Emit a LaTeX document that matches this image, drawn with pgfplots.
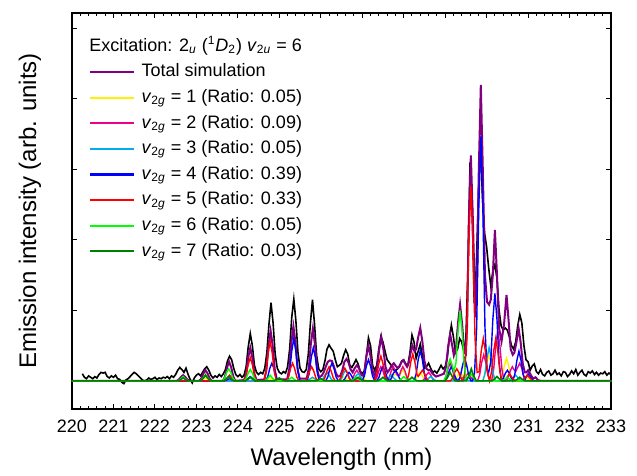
\documentclass[border=0pt]{standalone}
\usepackage{fontspec}
\setmainfont{Liberation Sans}
\usepackage{pgfplots}
\pgfplotsset{compat=1.18}
\definecolor{simpurple}{RGB}{128,0,128}
\definecolor{darkgreen}{RGB}{0,128,0}
\begin{document}
\begin{tikzpicture}
\begin{axis}[
  scale only axis, width=269.5pt, height=198pt,
  xmin=220, xmax=233, ymin=-0.4, ymax=5.22,
  xtick={220,...,233}, minor x tick num=4,
  ytick={0,...,5}, yticklabels={},
  tick align=inside, major tick length=2.7pt, minor tick length=1.4pt,
  axis line style={line width=0.6pt},
  every tick/.append style={black, line width=0.5pt},
  /pgf/number format/assume math mode=true,
  /pgf/number format/1000 sep={},
  xticklabel style={font=\fontsize{9}{10}\selectfont, inner sep=0pt, yshift=-5.5pt},
  xlabel={Wavelength (nm)},
  ylabel={Emission intensity (arb. units)},
  label style={font=\fontsize{12}{14}\selectfont, inner sep=0pt},
  xlabel style={at={(rel axis cs:0.5,0)}, anchor=north, yshift=-19.5pt},
  ylabel style={at={(rel axis cs:0,0.5)}, anchor=center, yshift=21pt},
  legend cell align=left,
  legend style={at={(0.0315,0.884)}, anchor=north west, draw=none, fill=none,
    inner sep=0pt, column sep=3pt, row sep=0pt,
    font=\fontsize{9}{10}\selectfont,
    nodes={inner sep=0pt, text height=8.8pt, text depth=4pt}},
  legend image code/.code={\draw[#1, line width=1.1pt] (0pt,0pt) -- (22pt,0pt);},
]
% measured spectrum
\addplot[black, line width=0.8pt, forget plot] coordinates {
(220.25,0.10)(220.30,0.05)(220.35,0.03)(220.40,0.07)(220.45,0.05)(220.50,0.03)
(220.55,0.06)(220.60,0.04)(220.65,0.09)(220.70,0.12)(220.75,0.11)(220.80,0.12)
(220.85,0.06)(220.90,0.04)(220.95,0.07)(221.00,0.05)(221.05,0.08)(221.10,0.03)
(221.15,0.02)(221.20,-0.02)(221.25,-0.04)(221.30,0.01)(221.35,0.03)(221.40,0.06)
(221.45,0.09)(221.50,0.12)(221.55,0.10)(221.60,0.07)(221.65,0.04)(221.70,0.01)
(221.75,0.00)(221.80,0.01)(221.85,0.04)(221.90,0.02)(221.95,0.03)(222.00,0.05)
(222.05,0.02)(222.10,0.04)(222.15,0.03)(222.20,0.05)(222.25,0.04)(222.30,0.06)
(222.35,0.03)(222.40,0.07)(222.45,0.05)(222.50,0.09)(222.55,0.15)(222.60,0.19)
(222.65,0.16)(222.70,0.12)(222.75,0.18)(222.80,0.09)(222.85,0.02)(222.90,-0.03)
(222.95,0.04)(223.00,0.08)(223.05,0.10)(223.10,0.07)(223.15,0.12)(223.20,0.17)
(223.25,0.20)(223.30,0.15)(223.35,0.08)(223.40,0.04)(223.45,0.07)(223.50,0.05)
(223.55,0.09)(223.60,0.06)(223.65,0.10)(223.70,0.16)(223.75,0.28)(223.80,0.35)
(223.85,0.30)(223.90,0.18)(223.95,0.09)(224.00,0.06)(224.05,0.09)(224.10,0.05)
(224.15,0.08)(224.20,0.20)(224.25,0.48)(224.30,0.67)(224.35,0.50)(224.40,0.22)
(224.45,0.12)(224.50,0.09)(224.55,0.12)(224.60,0.10)(224.65,0.18)(224.70,0.40)
(224.75,0.80)(224.80,1.11)(224.85,0.82)(224.90,0.38)(224.95,0.18)(225.00,0.12)
(225.05,0.10)(225.10,0.13)(225.15,0.11)(225.20,0.20)(225.25,0.45)(225.30,0.90)
(225.35,1.16)(225.40,0.85)(225.45,0.40)(225.50,0.18)(225.55,0.13)(225.60,0.12)
(225.65,0.16)(225.70,0.38)(225.75,0.82)(225.80,1.15)(225.85,0.80)(225.90,0.36)
(225.95,0.17)(226.00,0.13)(226.05,0.16)(226.10,0.28)(226.15,0.45)(226.20,0.51)
(226.25,0.46)(226.30,0.42)(226.35,0.30)(226.40,0.20)(226.45,0.22)(226.50,0.25)
(226.55,0.36)(226.60,0.44)(226.65,0.38)(226.70,0.22)(226.75,0.19)(226.80,0.24)
(226.85,0.30)(226.90,0.24)(226.95,0.14)(227.00,0.10)(227.05,0.14)(227.10,0.35)
(227.15,0.61)(227.20,0.50)(227.25,0.22)(227.30,0.15)(227.35,0.22)(227.40,0.45)
(227.45,0.63)(227.50,0.55)(227.55,0.42)(227.60,0.30)(227.65,0.26)(227.70,0.22)
(227.75,0.16)(227.80,0.14)(227.85,0.17)(227.90,0.20)(227.95,0.28)(228.00,0.30)
(228.05,0.24)(228.10,0.22)(228.15,0.40)(228.20,0.65)(228.25,0.55)(228.30,0.32)
(228.35,0.42)(228.40,0.52)(228.45,0.36)(228.50,0.18)(228.55,0.20)(228.60,0.25)
(228.65,0.18)(228.70,0.12)(228.75,0.14)(228.80,0.11)(228.85,0.16)(228.90,0.22)
(228.95,0.17)(229.00,0.20)(229.05,0.32)(229.10,0.60)(229.15,0.79)(229.20,0.62)
(229.25,0.40)(229.30,0.45)(229.35,0.60)(229.40,0.55)(229.45,0.42)(229.50,0.60)
(229.55,1.60)(229.60,3.10)(229.65,2.55)(229.70,1.10)(229.75,1.60)(229.80,2.60)
(229.85,3.40)(229.90,2.60)(229.95,2.10)(230.00,1.90)(230.05,1.60)(230.10,1.35)
(230.15,1.55)(230.20,1.65)(230.25,1.45)(230.30,1.00)(230.35,0.78)(230.40,0.72)
(230.45,0.75)(230.50,0.72)(230.55,0.62)(230.60,0.50)(230.65,0.45)(230.70,0.55)
(230.75,0.78)(230.80,0.94)(230.85,0.82)(230.90,0.50)(230.95,0.30)(231.00,0.27)
(231.05,0.15)(231.10,0.21)(231.15,0.24)(231.20,0.13)(231.25,0.10)(231.30,0.16)
(231.35,0.09)(231.40,0.07)(231.45,0.12)(231.50,0.14)(231.55,0.08)(231.60,0.10)
(231.65,0.15)(231.70,0.09)(231.75,0.11)(231.80,0.07)(231.85,0.13)(231.90,0.12)
(231.95,0.06)(232.00,0.09)(232.05,0.14)(232.10,0.10)(232.15,0.16)(232.20,0.08)
(232.25,0.12)(232.30,0.15)(232.35,0.09)(232.40,0.07)(232.45,0.13)(232.50,0.11)
(232.55,0.14)(232.60,0.09)(232.65,0.12)(232.70,0.08)(232.75,0.11)(232.80,0.10)
(232.85,0.13)(232.90,0.08)(232.95,0.11)(233.00,0.09)
};
% total simulation
\addplot[simpurple, line width=1.0pt] coordinates {
(220.00,0)(222.53,0)(222.58,0.02)(222.63,0.055)(222.68,0.08)(222.73,0.055)(222.78,0.02)(222.83,0)
(223.07,0)(223.12,0.033)(223.17,0.105)(223.22,0.15)(223.27,0.105)(223.32,0.033)(223.37,0)
(223.64,0)(223.69,0.06)(223.74,0.19)(223.79,0.27)(223.84,0.19)(223.89,0.06)(223.94,0)
(224.15,0.01)(224.20,0.10)(224.25,0.33)(224.30,0.47)(224.35,0.33)(224.40,0.10)(224.45,0.01)
(224.64,0.02)(224.69,0.16)(224.74,0.50)(224.79,0.71)(224.84,0.50)(224.89,0.16)(224.94,0.02)
(225.19,0.02)(225.24,0.17)(225.29,0.54)(225.34,0.77)(225.39,0.54)(225.44,0.17)(225.49,0.03)
(225.66,0.03)(225.71,0.17)(225.76,0.52)(225.81,0.74)(225.86,0.52)(225.91,0.17)(225.96,0.05)
(226.02,0.07)(226.07,0.12)(226.12,0.20)(226.17,0.27)(226.22,0.29)(226.27,0.28)(226.32,0.20)(226.37,0.10)(226.42,0.06)
(226.47,0.07)(226.52,0.15)(226.57,0.27)(226.62,0.31)(226.67,0.26)(226.72,0.16)
(226.77,0.12)(226.82,0.18)(226.87,0.22)(226.92,0.18)(226.97,0.10)(227.02,0.06)
(227.05,0.10)(227.10,0.35)(227.15,0.50)(227.20,0.35)(227.25,0.14)
(227.30,0.06)(227.36,0.20)(227.41,0.45)(227.46,0.62)(227.51,0.45)(227.56,0.20)(227.61,0.12)
(227.66,0.16)(227.71,0.22)(227.76,0.25)(227.81,0.21)(227.86,0.18)
(227.91,0.22)(227.95,0.27)(227.99,0.29)(228.04,0.24)(228.08,0.20)
(228.12,0.25)(228.16,0.38)(228.21,0.50)(228.26,0.42)(228.30,0.45)(228.35,0.62)(228.40,0.75)(228.45,0.56)(228.50,0.28)(228.55,0.17)
(228.60,0.15)(228.64,0.15)(228.70,0.10)(228.78,0.06)(228.88,0.08)
(228.97,0.10)(229.02,0.20)(229.07,0.48)(229.12,0.66)(229.17,0.50)(229.21,0.36)(229.26,0.45)(229.31,0.82)(229.36,1.08)(229.41,0.80)(229.46,0.40)(229.50,0.38)
(229.53,0.80)(229.57,2.25)(229.62,3.20)(229.67,2.25)(229.73,0.90)
(229.77,1.50)(229.81,2.95)(229.86,4.20)(229.91,2.95)(229.96,1.50)(230.01,1.12)(230.06,1.08)
(230.10,1.15)(230.15,1.50)(230.20,2.14)(230.25,1.50)(230.30,0.75)(230.36,0.56)
(230.42,0.80)(230.48,1.22)(230.53,0.86)(230.58,0.45)(230.63,0.37)
(230.67,0.40)(230.72,0.55)(230.77,0.75)(230.82,0.55)(230.87,0.25)(230.92,0.12)
(230.96,0.12)(231.00,0.15)(231.05,0.10)(231.12,0.03)(231.18,0.05)(231.24,0.01)(231.30,0)
(233.00,0)
};
\addlegendentry{Total simulation}
% v2g = 1
\addplot[yellow, line width=0.7pt] coordinates {
(220.00,0)(223.10,0)(223.17,0.02)(223.22,0.04)(223.27,0.02)(223.34,0)
(224.68,0)(224.75,0.015)(224.80,0.03)(224.85,0.015)(224.92,0)
(225.73,0)(225.80,0.02)(225.85,0.04)(225.90,0.02)(225.97,0)
(226.43,0)(226.50,0.03)(226.55,0.06)(226.60,0.03)(226.67,0)
(226.88,0)(226.95,0.025)(227.00,0.05)(227.05,0.025)(227.12,0)
(227.65,0)(227.70,0.02)(227.75,0.07)(227.80,0.10)(227.85,0.08)(227.90,0.07)
(227.93,0.11)(227.98,0.15)(228.03,0.105)(228.08,0.033)(228.13,0)
(228.24,0)(228.29,0.03)(228.34,0.08)(228.39,0.12)(228.44,0.08)(228.49,0.03)(228.54,0)
(229.21,0)(229.26,0.03)(229.31,0.08)(229.36,0.12)(229.41,0.08)(229.46,0.03)(229.51,0)
(229.90,0)(229.95,0.08)(230.00,0.26)(230.05,0.37)(230.10,0.26)(230.15,0.08)(230.20,0)
(230.33,0)(230.38,0.07)(230.43,0.22)(230.48,0.32)(230.53,0.22)(230.58,0.07)(230.63,0)
(230.83,0)(230.90,0.03)(230.95,0.06)(231.00,0.03)(231.07,0)
(233.00,0)
};
\addlegendentry{\textit{v}\textsubscript{2\textit{g}} = 1 (Ratio: 0.05)}
% v2g = 2
\addplot[magenta, line width=0.7pt] coordinates {
(220.00,0)(226.72,0)(226.77,0.03)(226.82,0.105)(226.87,0.15)(226.92,0.105)(226.97,0.03)(227.02,0)
(227.30,0)(227.35,0.044)(227.40,0.14)(227.45,0.20)(227.50,0.14)(227.55,0.044)(227.60,0)
(227.65,0.044)(227.70,0.14)(227.75,0.20)(227.80,0.14)(227.85,0.074)(227.90,0.08)
(227.93,0.14)(227.98,0.20)(228.03,0.14)(228.08,0.044)(228.13,0)
(228.45,0)(228.50,0.026)(228.55,0.084)(228.60,0.12)(228.65,0.084)(228.70,0.026)(228.75,0)
(228.97,0)(229.02,0.055)(229.07,0.175)(229.12,0.25)(229.17,0.175)(229.22,0.055)(229.27,0)
(229.40,0)(229.45,0.022)(229.50,0.07)(229.55,0.10)(229.60,0.07)(229.65,0.022)(229.70,0)
(229.78,0)(229.83,0.08)(229.88,0.26)(229.93,0.37)(229.98,0.26)(230.03,0.08)(230.08,0)
(230.12,0)(230.17,0.16)(230.22,0.50)(230.27,0.72)(230.32,0.50)(230.37,0.16)(230.42,0)
(230.47,0)(230.52,0.044)(230.57,0.14)(230.62,0.20)(230.67,0.15)(230.70,0.13)
(230.75,0.19)(230.80,0.25)(230.85,0.175)(230.90,0.055)(230.95,0)
(233.00,0)
};
\addlegendentry{\textit{v}\textsubscript{2\textit{g}} = 2 (Ratio: 0.09)}
% v2g = 3
\addplot[cyan, line width=0.7pt] coordinates {
(220.00,0)(225.67,0)(225.74,0.025)(225.80,0.05)(225.86,0.025)(225.93,0)
(226.00,0)(226.05,0.026)(226.10,0.084)(226.15,0.12)(226.20,0.084)(226.25,0.026)(226.30,0)
(226.45,0)(226.50,0.033)(226.55,0.105)(226.60,0.15)(226.65,0.105)(226.70,0.033)(226.75,0)
(226.80,0.022)(226.85,0.07)(226.90,0.10)(226.95,0.07)(227.00,0.022)(227.05,0)
(227.57,0)(227.64,0.04)(227.70,0.08)(227.76,0.04)(227.83,0)
(228.52,0)(228.59,0.03)(228.65,0.06)(228.71,0.03)(228.78,0)
(229.27,0)(229.34,0.025)(229.40,0.05)(229.46,0.025)(229.53,0)
(229.91,0)(229.96,0.10)(230.01,0.33)(230.06,0.47)(230.11,0.33)(230.16,0.10)(230.21,0)
(230.57,0)(230.64,0.04)(230.70,0.08)(230.76,0.04)(230.83,0)
(233.00,0)
};
\addlegendentry{\textit{v}\textsubscript{2\textit{g}} = 3 (Ratio: 0.05)}
% v2g = 4
\addplot[blue, line width=0.7pt] coordinates {
(220.00,0)(223.67,0)(223.74,0.015)(223.80,0.03)(223.86,0.015)(223.93,0)
(224.17,0)(224.24,0.03)(224.30,0.06)(224.36,0.03)(224.43,0)
(224.67,0)(224.72,0.055)(224.77,0.175)(224.82,0.25)(224.87,0.175)(224.92,0.055)(224.97,0)
(225.20,0)(225.25,0.13)(225.30,0.42)(225.35,0.60)(225.40,0.42)(225.45,0.13)(225.50,0)
(225.67,0)(225.72,0.10)(225.77,0.33)(225.82,0.47)(225.87,0.33)(225.92,0.10)(225.97,0)
(226.12,0)(226.17,0.055)(226.22,0.175)(226.27,0.25)(226.32,0.175)(226.37,0.055)(226.42,0)
(226.53,0)(226.58,0.026)(226.63,0.084)(226.68,0.12)(226.73,0.084)(226.78,0.026)(226.83,0)
(227.00,0)(227.05,0.066)(227.10,0.21)(227.15,0.30)(227.20,0.21)(227.25,0.066)(227.30,0)
(227.35,0)(227.40,0.044)(227.45,0.14)(227.50,0.20)(227.55,0.14)(227.60,0.044)(227.65,0)
(227.70,0.033)(227.75,0.105)(227.80,0.15)(227.85,0.105)(227.90,0.033)(227.95,0)
(228.25,0)(228.30,0.095)(228.35,0.30)(228.40,0.43)(228.45,0.30)(228.50,0.095)(228.55,0)
(229.00,0)(229.05,0.044)(229.10,0.14)(229.15,0.20)(229.20,0.14)(229.25,0.044)(229.30,0)
(229.32,0)(229.37,0.07)(229.42,0.22)(229.47,0.32)(229.52,0.22)(229.57,0.07)(229.62,0)
(229.66,0)(229.71,0.12)(229.76,0.76)(229.81,2.43)(229.86,3.47)(229.91,2.43)(229.96,0.76)(230.01,0.16)
(230.05,0.12)(230.10,0.27)(230.15,0.87)(230.20,1.24)(230.25,0.87)(230.30,0.27)(230.35,0.02)
(230.40,0.033)(230.45,0.105)(230.50,0.15)(230.55,0.105)(230.60,0.033)(230.63,0)
(230.68,0.09)(230.73,0.29)(230.78,0.42)(230.83,0.29)(230.88,0.09)(230.93,0.02)
(230.95,0.05)(231.00,0.10)(231.06,0.05)(231.13,0)
(233.00,0)
};
\addlegendentry{\textit{v}\textsubscript{2\textit{g}} = 4 (Ratio: 0.39)}
% v2g = 5
\addplot[red, line width=0.7pt] coordinates {
(220.00,0)(223.67,0)(223.74,0.04)(223.80,0.08)(223.86,0.04)(223.93,0)
(224.15,0)(224.20,0.073)(224.25,0.23)(224.30,0.33)(224.35,0.23)(224.40,0.073)(224.45,0)
(224.63,0)(224.68,0.12)(224.73,0.39)(224.78,0.56)(224.83,0.39)(224.88,0.12)(224.93,0)
(225.17,0)(225.22,0.055)(225.27,0.175)(225.32,0.25)(225.37,0.175)(225.42,0.055)(225.47,0)
(225.63,0)(225.68,0.044)(225.73,0.14)(225.78,0.20)(225.83,0.14)(225.88,0.044)(225.93,0)
(226.05,0)(226.10,0.044)(226.15,0.14)(226.20,0.20)(226.25,0.14)(226.30,0.044)(226.35,0)
(226.43,0)(226.48,0.04)(226.53,0.126)(226.58,0.18)(226.63,0.126)(226.68,0.04)(226.73,0)
(227.30,0)(227.35,0.077)(227.40,0.245)(227.45,0.35)(227.50,0.245)(227.55,0.077)(227.60,0)
(228.07,0)(228.12,0.084)(228.17,0.266)(228.22,0.38)(228.27,0.266)(228.32,0.09)(228.35,0.063)
(228.40,0.105)(228.45,0.15)(228.50,0.105)(228.55,0.033)(228.60,0)
(229.13,0)(229.18,0.037)(229.23,0.12)(229.28,0.17)(229.33,0.12)(229.38,0.037)(229.43,0)
(229.47,0.10)(229.52,0.61)(229.57,1.93)(229.62,2.76)(229.67,1.93)(229.72,0.61)(229.77,0.12)
(229.82,0.13)(229.87,0.42)(229.92,0.60)(229.97,0.42)(230.02,0.13)(230.07,0)
(230.12,0.13)(230.17,0.42)(230.22,0.60)(230.27,0.42)(230.32,0.13)(230.37,0)
(230.42,0)(230.49,0.05)(230.55,0.10)(230.61,0.05)(230.68,0)
(230.85,0)(230.92,0.04)(230.98,0.08)(231.04,0.04)(231.11,0)
(233.00,0)
};
\addlegendentry{\textit{v}\textsubscript{2\textit{g}} = 5 (Ratio: 0.33)}
% v2g = 6
\addplot[green, line width=0.7pt] coordinates {
(220.00,0)(222.56,0)(222.63,0.03)(222.68,0.06)(222.73,0.03)(222.80,0)
(223.10,0)(223.17,0.045)(223.22,0.09)(223.27,0.045)(223.34,0)
(223.63,0)(223.68,0.037)(223.73,0.12)(223.78,0.17)(223.83,0.12)(223.88,0.037)(223.93,0)
(224.15,0)(224.20,0.035)(224.25,0.11)(224.30,0.16)(224.35,0.11)(224.40,0.035)(224.45,0)
(224.66,0)(224.73,0.04)(224.78,0.08)(224.83,0.04)(224.90,0)
(225.18,0)(225.25,0.025)(225.30,0.05)(225.35,0.025)(225.42,0)
(226.73,0)(226.80,0.025)(226.85,0.05)(226.90,0.025)(226.97,0)
(227.88,0)(227.95,0.03)(228.00,0.06)(228.05,0.03)(228.12,0)
(228.97,0)(229.02,0.068)(229.07,0.217)(229.12,0.31)(229.17,0.22)(229.21,0.13)
(229.26,0.25)(229.31,0.70)(229.36,1.00)(229.41,0.70)(229.46,0.22)(229.51,0.02)
(229.55,0.03)(229.58,0.06)(229.62,0.10)(229.67,0.06)(229.74,0)
(230.38,0)(230.45,0.025)(230.50,0.05)(230.55,0.025)(230.62,0)
(233.00,0)
};
\addlegendentry{\textit{v}\textsubscript{2\textit{g}} = 6 (Ratio: 0.05)}
% v2g = 7
\addplot[darkgreen, line width=0.8pt] coordinates {
(220.00,0)(222.56,0)(222.63,0.02)(222.68,0.04)(222.73,0.02)(222.80,0)
(223.10,0)(223.17,0.04)(223.22,0.08)(223.27,0.04)(223.34,0)
(223.66,0)(223.73,0.03)(223.78,0.06)(223.83,0.03)(223.90,0)
(224.18,0)(224.25,0.025)(224.30,0.05)(224.35,0.025)(224.42,0)
(224.88,0)(224.95,0.02)(225.00,0.04)(225.05,0.02)(225.12,0)
(225.88,0)(225.95,0.015)(226.00,0.03)(226.05,0.015)(226.12,0)
(226.78,0)(226.85,0.025)(226.90,0.05)(226.95,0.025)(227.02,0)
(227.38,0)(227.45,0.025)(227.50,0.05)(227.55,0.025)(227.62,0)
(228.08,0)(228.15,0.025)(228.20,0.05)(228.25,0.025)(228.32,0)
(229.00,0)(229.07,0.06)(229.12,0.12)(229.17,0.06)(229.24,0)
(229.51,0)(229.58,0.08)(229.63,0.17)(229.68,0.08)(229.75,0)
(230.13,0)(230.20,0.03)(230.25,0.06)(230.30,0.03)(230.37,0)
(230.68,0)(230.75,0.025)(230.80,0.05)(230.85,0.025)(230.92,0)
(233.00,0)
};
\addlegendentry{\textit{v}\textsubscript{2\textit{g}} = 7 (Ratio: 0.03)}
\node[anchor=base west, inner sep=0pt, font=\fontsize{9}{10}\selectfont]
  at (rel axis cs:0.0315,0.9023)
  {Excitation: 2\textsubscript{\textit{u}} (\textsuperscript{1}\textit{D}\textsubscript{2}) \textit{v}\textsubscript{2\textit{u}} = 6};
\end{axis}
\path ([shift={(-36pt,-33.5pt)}]current axis.south west) rectangle ([shift={(13pt,6.5pt)}]current axis.north east);
\end{tikzpicture}
\end{document}
